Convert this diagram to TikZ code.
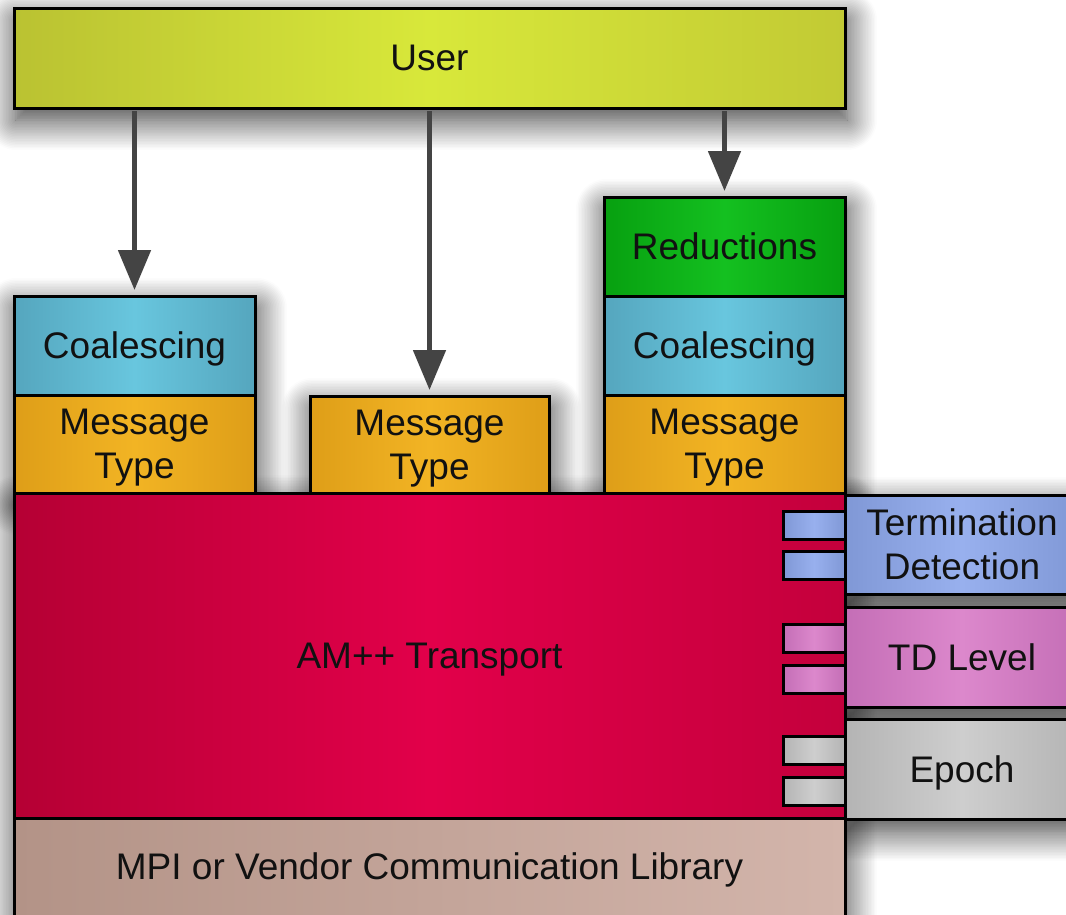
\documentclass[tikz,border=0pt]{standalone}
\usepackage{fontspec}
\setmainfont{Liberation Sans}
\usetikzlibrary{arrows.meta,shadows.blur}

\pgfdeclarelayer{shadowlayer}
\pgfsetlayers{shadowlayer,main}

\definecolor{userL}{HTML}{BAC232}
\definecolor{userM}{HTML}{D8E83A}
\definecolor{userR}{HTML}{C2CA34}
\definecolor{coalE}{HTML}{55A6BE}
\definecolor{coalM}{HTML}{68C6DE}
\definecolor{msgE}{HTML}{DE9E18}
\definecolor{msgM}{HTML}{F2B424}
\definecolor{redE}{HTML}{07A010}
\definecolor{redM}{HTML}{14C020}
\definecolor{amL}{HTML}{B50034}
\definecolor{amM}{HTML}{E2004A}
\definecolor{amR}{HTML}{C4003C}
\definecolor{mpiL}{HTML}{B39387}
\definecolor{mpiR}{HTML}{D3B5AB}
\definecolor{tdE}{HTML}{8098D6}
\definecolor{tdM}{HTML}{98B0EE}
\definecolor{lvE}{HTML}{C46EB6}
\definecolor{lvM}{HTML}{DC88CC}
\definecolor{epE}{HTML}{B4B4B4}
\definecolor{epM}{HTML}{CECECE}
\definecolor{arrowgray}{HTML}{444444}
\definecolor{ink}{HTML}{111111}

\tikzset{
  layer/.style={draw=black, line width=3pt, inner sep=0pt, outer sep=0pt,
    anchor=north west, align=center, text=ink, text depth=0pt,
    font=\fontsize{37}{44}\selectfont},
  dropshadow/.style={blur shadow={shadow xshift=2pt, shadow yshift=-12pt,
                 shadow blur radius=30pt, shadow blur steps=20,
                 shadow opacity=80}},
  tab/.style={draw=black, line width=3pt, inner sep=0pt, outer sep=0pt,
    anchor=north west, minimum width=62pt, minimum height=28pt},
  usershade/.style={left color=userL, right color=userR, middle color=userM},
  coalshade/.style={left color=coalE, right color=coalE, middle color=coalM},
  msgshade/.style={left color=msgE, right color=msgE, middle color=msgM},
  redshade/.style={left color=redE, right color=redE, middle color=redM},
  amshade/.style={left color=amL, right color=amR, middle color=amM},
  mpishade/.style={left color=mpiL, right color=mpiR},
  tdshade/.style={left color=tdE, right color=tdE, middle color=tdM},
  lvshade/.style={left color=lvE, right color=lvE, middle color=lvM},
  epshade/.style={left color=epE, right color=epE, middle color=epM},
  flow/.style={draw=arrowgray, line width=5pt,
    -{Triangle[length=40pt,width=32pt]}, shorten >=6pt, shorten <=3pt},
}

\begin{document}
\begin{tikzpicture}[x=1pt,y=-1pt]
\useasboundingbox (0,0) rectangle (1066,914);

% top layer
\node[layer, usershade, minimum width=831pt, minimum height=100pt] (user) at (14,8) {User};

% left stack
\node[layer, coalshade, minimum width=241pt, minimum height=99pt] (coalA) at (14,296) {Coalescing};
\node[layer, msgshade, minimum width=241pt, minimum height=98pt] (msgA) at (14,395) {Message\\Type};

% middle stack
\node[layer, msgshade, minimum width=239pt, minimum height=97pt] (msgB) at (310,396) {Message\\Type};

% right stack
\node[layer, redshade, minimum width=241pt, minimum height=99pt] (reduce) at (604,197) {Reductions};
\node[layer, coalshade, minimum width=241pt, minimum height=99pt] (coalC) at (604,296) {Coalescing};
\node[layer, msgshade, minimum width=241pt, minimum height=98pt] (msgC) at (604,395) {Message\\Type};

% transport and communication library
\node[layer, amshade, minimum width=831pt, minimum height=325pt] (am) at (14,493) {AM++ Transport};
\node[layer, mpishade, minimum width=831pt, minimum height=110pt] (mpi) at (14,818) {};
\node[font=\fontsize{37}{44}\selectfont, text=ink, text depth=0pt] (mpitext) at (429.5,866) {MPI or Vendor Communication Library};

% plug-in modules on the right
\node[layer, tdshade, minimum width=234pt, minimum height=99pt] (term) at (845,495) {Termination\\Detection};
\node[layer, lvshade, minimum width=234pt, minimum height=100pt] (level) at (845,607) {TD Level};
\node[layer, epshade, minimum width=234pt, minimum height=100pt] (epoch) at (845,719) {Epoch};

% connection tabs
\node[tab, tdshade] (termA) at (783,511) {};
\node[tab, tdshade] (termB) at (783,551) {};
\node[tab, lvshade] (levelA) at (783,624) {};
\node[tab, lvshade] (levelB) at (783,665) {};
\node[tab, epshade] (epochA) at (783,736) {};
\node[tab, epshade] (epochB) at (783,777) {};

% user calls
\draw[flow] (user.south -| coalA.north) -- (coalA.north);
\draw[flow] (user.south -| msgB.north) -- (msgB.north);
\draw[flow] (user.south -| reduce.north) -- (reduce.north);

% soft drop shadows, one per stack, kept underneath every box
\begin{pgfonlayer}{shadowlayer}
  \path[dropshadow] (user.north west) rectangle (user.south east);
  \path[dropshadow] (coalA.north west) rectangle (msgA.south east);
  \path[dropshadow] (msgB.north west) rectangle (msgB.south east);
  \path[dropshadow] (reduce.north west) rectangle (msgC.south east);
  \path[dropshadow] (am.north west) rectangle (mpi.south east);
  \foreach \b in {term,level,epoch}
    \path[dropshadow] (\b.north west) rectangle (\b.south east);
\end{pgfonlayer}
\end{tikzpicture}
\end{document}
